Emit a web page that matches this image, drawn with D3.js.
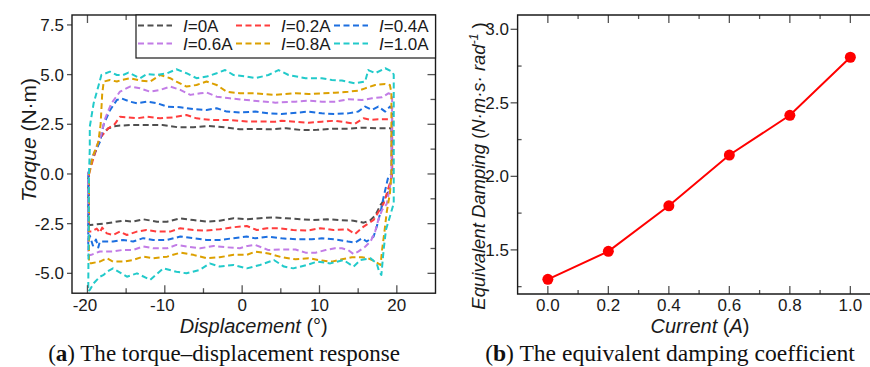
<!DOCTYPE html>
<html>
<head>
<meta charset="utf-8">
<script src="https://cdn.jsdelivr.net/npm/d3@7"></script>
<style>
  body { margin: 0; background: #fff; }
  svg { display: block; font-family: Arial, "Liberation Sans", sans-serif; }
</style>
</head>
<body>
<svg id="fig" width="870" height="367"></svg>
<script>
// ---------------- data: (a) torque vs displacement loops, [deg, N·m] ----------------
const currentLabels = ["0A", "0.2A", "0.4A", "0.6A", "0.8A", "1.0A"];
const curveColors = ["#4f4f4f", "#ff3d3d", "#1c6fe0", "#c27ce6", "#dca000", "#22caca"];

// upper branch (left -> right), lower branch (right -> left)
const upper00 = [[-19.9,0],[-19.3,0.8],[-18.6,1.5],[-18.1,2.0],[-17.3,2.3],[-16.3,2.42],[-14.3,2.47],[-12.3,2.47],[-10.3,2.47],[-8.3,2.35],[-6.3,2.35],[-4.3,2.42],[-2.3,2.35],[-0.3,2.25],[1.7,2.27],[3.7,2.25],[5.7,2.3],[7.7,2.21],[9.7,2.22],[11.7,2.28],[13.7,2.28],[15.7,2.33],[17.7,2.3],[19.3,2.3]];
const lower00 = [[19.4,0],[19.1,-0.6],[18.9,-0.9],[18.4,-1.3],[17.9,-1.55],[17.2,-2.1],[16.5,-2.35],[15.7,-2.45],[14.4,-2.35],[12.7,-2.32],[11.0,-2.28],[9.2,-2.32],[7.5,-2.28],[5.7,-2.23],[4.1,-2.18],[2.3,-2.23],[0.6,-2.28],[-1.1,-2.23],[-2.9,-2.35],[-4.6,-2.4],[-6.3,-2.32],[-8.0,-2.23],[-9.7,-2.4],[-11.0,-2.4],[-12.8,-2.28],[-14.1,-2.4],[-15.4,-2.35],[-17.5,-2.48],[-19.7,-2.57],[-19.9,-2.6]];

const upper02 = [[-19.8,0],[-19.3,0.7],[-18.4,1.8],[-17.3,2.3],[-16.5,2.5],[-15.8,2.88],[-14.8,2.85],[-13.6,2.8],[-12.3,2.88],[-10.6,2.8],[-8.9,2.85],[-7.2,2.97],[-5.9,2.8],[-4.1,2.72],[-2.0,2.72],[0.6,2.64],[2.3,2.64],[4.3,2.63],[5.1,2.68],[6.9,2.63],[8.6,2.58],[10.3,2.63],[12.0,2.68],[13.7,2.58],[14.6,2.53],[15.7,2.8],[16.6,2.72],[17.6,2.75],[18.9,2.75],[19.4,2.8]];
const lower02 = [[19.4,0],[19.1,-0.47],[18.3,-1.48],[17.0,-2.31],[15.7,-2.65],[14.6,-3.02],[13.6,-2.78],[11.8,-2.82],[10.1,-2.73],[8.4,-2.85],[6.6,-2.82],[4.9,-2.73],[3.2,-2.73],[1.9,-2.82],[0.6,-2.62],[-1.1,-2.68],[-2.9,-2.78],[-4.6,-2.85],[-6.3,-2.82],[-8.0,-2.73],[-9.3,-2.9],[-11.0,-2.9],[-12.4,-2.82],[-13.6,-2.9],[-14.9,-3.07],[-15.8,-2.9],[-16.7,-3.07],[-17.5,-2.99],[-18.1,-2.7],[-18.4,-2.95],[-18.8,-2.75],[-19.5,-2.9],[-19.8,-2.9]];

const upper04 = [[-19.9,0],[-19.3,0.9],[-18.4,1.6],[-17.9,2.5],[-17.1,3.2],[-16.2,3.72],[-15.6,3.8],[-14.5,3.64],[-13.6,3.56],[-12.3,3.64],[-11.0,3.56],[-9.7,3.39],[-8.0,3.36],[-6.3,3.26],[-4.6,3.22],[-3.3,3.31],[-2.0,3.14],[-0.3,3.09],[1.7,3.14],[3.4,3.05],[5.1,3.02],[7.3,3.09],[8.6,3.14],[10.3,3.05],[12.0,3.02],[13.7,3.05],[15.0,3.14],[15.9,3.39],[16.8,3.22],[17.6,3.39],[18.5,3.14],[19.1,3.39],[19.4,3.3]];
const lower04 = [[19.3,0],[18.9,-0.13],[18.3,-1.14],[17.9,-1.9],[17.4,-2.65],[17.0,-3.15],[16.1,-3.4],[15.5,-3.24],[14.6,-3.45],[13.7,-3.4],[12.0,-3.29],[10.3,-3.24],[9.0,-3.29],[7.3,-3.29],[5.1,-3.24],[3.4,-3.15],[1.7,-3.24],[0.6,-3.15],[-1.1,-3.23],[-2.9,-3.32],[-4.6,-3.32],[-6.3,-3.23],[-8.0,-3.15],[-9.7,-3.32],[-11.5,-3.32],[-12.8,-3.23],[-14.1,-3.4],[-15.4,-3.32],[-16.7,-3.4],[-18.4,-3.4],[-18.6,-3.7],[-18.9,-3.3],[-19.3,-3.6],[-19.7,-3.1],[-19.9,-3.5]];

const upper06 = [[-19.9,0],[-19.4,0.8],[-18.8,1.4],[-18.3,1.9],[-17.7,2.8],[-16.9,3.56],[-15.8,4.14],[-14.5,4.4],[-13.2,4.31],[-11.9,4.14],[-10.6,4.23],[-9.3,4.4],[-8.0,4.23],[-6.7,3.98],[-5.4,4.06],[-4.6,4.1],[-3.3,3.89],[-1.6,3.81],[0.6,3.72],[2.3,3.66],[4.3,3.59],[6.9,3.64],[8.6,3.69],[10.3,3.64],[12.0,3.64],[13.7,3.76],[15.5,3.72],[16.8,3.81],[18.1,3.86],[18.9,4.06],[19.4,4.0]];
const lower06 = [[19.3,0],[19.2,-0.47],[18.7,-1.5],[18.1,-1.81],[17.6,-2.32],[17.2,-2.9],[16.6,-3.4],[15.9,-3.66],[15.0,-3.91],[14.4,-4.03],[13.7,-3.83],[12.9,-3.74],[12.0,-3.74],[10.8,-3.83],[9.5,-3.96],[8.2,-3.96],[6.9,-3.8],[5.1,-3.8],[3.4,-3.83],[1.7,-3.57],[0.7,-3.62],[-0.3,-3.74],[-2.0,-3.69],[-3.7,-3.62],[-5.4,-3.74],[-7.2,-3.65],[-8.5,-3.57],[-9.7,-3.74],[-11.5,-3.74],[-12.8,-3.65],[-14.1,-3.82],[-15.4,-3.82],[-16.7,-3.9],[-18.4,-3.9],[-19.5,-4.07],[-19.9,-4.1]];

const upper08 = [[-19.8,0],[-19.3,0.9],[-18.6,1.6],[-18.3,2.5],[-18.1,4.0],[-17.9,4.65],[-17.1,4.73],[-16.2,4.65],[-15.6,4.73],[-14.5,4.82],[-13.2,4.7],[-11.9,4.65],[-10.6,4.98],[-9.3,4.82],[-8.5,4.65],[-7.2,4.4],[-5.9,4.48],[-4.6,4.65],[-3.3,4.48],[-2.0,4.14],[-0.3,4.06],[1.7,4.06],[4.3,3.98],[6.9,4.06],[8.6,4.02],[10.3,4.06],[12.0,4.09],[13.7,4.14],[15.0,4.19],[15.9,4.31],[17.2,4.48],[18.5,4.53],[19.1,4.48],[19.3,4.1]];
const lower08 = [[19.3,0],[19.1,-1.0],[18.7,-1.9],[18.4,-2.9],[18.1,-3.8],[17.9,-4.58],[17.2,-4.41],[16.3,-4.24],[15.5,-4.19],[14.2,-4.19],[12.9,-4.29],[11.6,-4.41],[10.3,-4.36],[8.6,-4.24],[6.9,-4.29],[5.1,-4.19],[3.4,-4.0],[1.7,-3.91],[0.6,-4.07],[-1.1,-4.07],[-2.9,-4.19],[-4.6,-4.24],[-6.3,-4.07],[-8.0,-3.96],[-9.7,-4.16],[-11.5,-4.24],[-12.8,-4.16],[-14.1,-4.33],[-15.4,-4.41],[-16.7,-4.41],[-17.5,-4.24],[-18.4,-4.41],[-19.5,-4.49],[-19.8,-4.5]];

const upper10 = [[-19.8,0],[-19.7,1.3],[-19.7,2.38],[-19.2,3.56],[-18.6,4.4],[-18.2,4.98],[-17.1,5.15],[-16.2,4.98],[-15.4,4.98],[-14.7,5.1],[-13.2,4.82],[-12.3,5.03],[-11.0,4.98],[-9.7,5.07],[-8.5,5.27],[-7.2,5.07],[-5.9,4.82],[-4.6,4.9],[-3.3,5.07],[-2.2,5.23],[-1.1,4.98],[0.6,4.9],[1.7,4.82],[3.4,4.98],[4.7,5.23],[6.0,4.98],[8.2,4.82],[10.3,4.82],[11.6,4.73],[12.9,4.7],[14.6,4.56],[15.9,4.65],[16.3,5.23],[17.2,5.07],[18.5,5.32],[19.4,5.15],[19.6,5.0]];
const lower10 = [[19.6,0],[19.6,-1.48],[19.1,-2.15],[18.6,-2.8],[18.3,-3.8],[18.0,-5.08],[17.7,-4.9],[17.4,-4.5],[16.6,-4.24],[15.3,-4.33],[14.4,-4.66],[13.1,-4.33],[11.4,-4.5],[9.7,-4.41],[8.4,-4.58],[6.6,-4.75],[5.4,-4.66],[4.1,-4.33],[2.3,-4.58],[0.6,-4.75],[-1.1,-4.58],[-2.9,-4.66],[-4.2,-4.5],[-5.5,-4.83],[-7.2,-5.0],[-8.5,-4.92],[-10.2,-4.75],[-11.9,-5.33],[-13.6,-5.0],[-14.9,-5.17],[-16.7,-4.75],[-17.5,-4.92],[-17.9,-5.08],[-18.4,-5.17],[-19.2,-5.5],[-19.7,-5.84],[-19.9,-5.9]];

const uppers = [upper00, upper02, upper04, upper06, upper08, upper10];
const lowers = [lower00, lower02, lower04, lower06, lower08, lower10];

// ---------------- data: (b) equivalent damping vs current ----------------
const currents = [0.0, 0.2, 0.4, 0.6, 0.8, 1.0];
const damping = [1.30, 1.49, 1.80, 2.145, 2.415, 2.81];

// ---------------- tick values ----------------
const dispTicks = [-20, -10, 0, 10, 20];
const dispMinor = [-15, -5, 5, 15];
const torqueTicks = [-5.0, -2.5, 0.0, 2.5, 5.0, 7.5];
const torqueMinor = [-3.75, -1.25, 1.25, 3.75, 6.25];
const currTicks = [0.0, 0.2, 0.4, 0.6, 0.8, 1.0];
const currMinor = [0.1, 0.3, 0.5, 0.7, 0.9];
const dampTicks = [1.5, 2.0, 2.5, 3.0];
const dampMinor = [1.25, 1.75, 2.25, 2.75];

const svg = d3.select("#fig");
const INK = "#1a1a1a";
const TICK = "#555";

// ======================= panel (a) =======================
const xA = d3.scaleLinear().domain([-22, 25]).range([72, 435.5]);
const yA = d3.scaleLinear().domain([-6, 8]).range([293.2, 15]);

svg.append("clipPath").attr("id", "clipA").append("rect")
  .attr("x", 72).attr("y", 15).attr("width", 363.5).attr("height", 278.2);

const gA = svg.append("g");

const lineA = d3.line().x(d => xA(d[0])).y(d => yA(d[1]));
uppers.forEach((up, i) => {
  const loop = up.concat(lowers[i]).concat([up[0]]);
  gA.append("path")
    .datum(loop)
    .attr("clip-path", "url(#clipA)")
    .attr("fill", "none")
    .attr("stroke", curveColors[i])
    .attr("stroke-width", 2)
    .attr("stroke-dasharray", "6,3.5")
    .attr("stroke-linejoin", "round")
    .attr("d", lineA);
});

// ticks (panel a)
function vTicks(g, vals, scale, y0, len, w) {
  vals.forEach(v => g.append("line")
    .attr("x1", scale(v)).attr("x2", scale(v))
    .attr("y1", y0).attr("y2", y0 + len)
    .attr("stroke", TICK).attr("stroke-width", w || 1.3));
}
function hTicks(g, vals, scale, x0, len, w) {
  vals.forEach(v => g.append("line")
    .attr("y1", scale(v)).attr("y2", scale(v))
    .attr("x1", x0).attr("x2", x0 + len)
    .attr("stroke", TICK).attr("stroke-width", w || 1.3));
}
vTicks(gA, dispTicks, xA, 293.2, -8);
vTicks(gA, dispMinor, xA, 293.2, -5);
vTicks(gA, dispTicks, xA, 15, 8);
vTicks(gA, dispMinor, xA, 15, 5);
hTicks(gA, torqueTicks, yA, 72, -5);
hTicks(gA, torqueTicks, yA, 435.5, -8);
hTicks(gA, torqueMinor, yA, 435.5, -5);

// frame
gA.append("rect")
  .attr("x", 72).attr("y", 15).attr("width", 363.5).attr("height", 278.2)
  .attr("fill", "none").attr("stroke", INK).attr("stroke-width", 1.4);

// tick labels
gA.selectAll(".xl").data(dispTicks).join("text")
  .attr("x", d => xA(d) - (d < 0 ? 2.5 : 0)).attr("y", 310.5)
  .attr("text-anchor", "middle").attr("font-size", 17).attr("fill", INK)
  .text(d => d);
gA.selectAll(".yl").data(torqueTicks).join("text")
  .attr("x", 64).attr("y", d => yA(d) + 6)
  .attr("text-anchor", "end").attr("font-size", 17).attr("fill", INK)
  .text(d => d.toFixed(1));

// axis titles
const tx = gA.append("text").attr("x", xA(1.5)).attr("y", 333)
  .attr("text-anchor", "middle").attr("font-size", 20).attr("fill", INK);
tx.append("tspan").attr("font-style", "italic").text("Displacement");
tx.append("tspan").text(" (°)");

const ty = gA.append("text")
  .attr("transform", "translate(36,140) rotate(-90)")
  .attr("text-anchor", "middle").attr("font-size", 21).attr("fill", INK);
ty.append("tspan").attr("font-style", "italic").text("Torque");
ty.append("tspan").text(" (N·m)");

// legend
const lg = gA.append("g");
lg.append("rect").attr("x", 136).attr("y", 15).attr("width", 299.5).attr("height", 43)
  .attr("fill", "#fff").attr("stroke", INK).attr("stroke-width", 1.2);
const colX = [137, 235, 333];
const rowY = [25.5, 43.5];
currentLabels.forEach((lab, i) => {
  const cx = colX[i % 3], cy = rowY[Math.floor(i / 3)];
  lg.append("line").attr("x1", cx + 1).attr("x2", cx + 35).attr("y1", cy).attr("y2", cy)
    .attr("stroke", curveColors[i]).attr("stroke-width", 2).attr("stroke-dasharray", "6,3.5");
  const t = lg.append("text").attr("x", cx + 46).attr("y", cy + 6)
    .attr("font-size", 17).attr("fill", INK);
  t.append("tspan").attr("font-style", "italic").text("I");
  t.append("tspan").text("=" + lab);
});

// ======================= panel (b) =======================
const xB = d3.scaleLinear().domain([-0.1, 1.1]).range([517.6, 880.6]);
const yB = d3.scaleLinear().domain([1.2, 3.1]).range([294, 14.6]);
const gB = svg.append("g");

vTicks(gB, currTicks, xB, 294, -8);
vTicks(gB, currMinor, xB, 294, -4);
vTicks(gB, currTicks, xB, 15, 8);
vTicks(gB, currMinor, xB, 15, 4);
hTicks(gB, dampTicks, yB, 517.6, -7);
hTicks(gB, dampMinor, yB, 517.6, 4);

gB.append("path")
  .attr("d", `M870,15H517.6V294H870`)
  .attr("fill", "none").attr("stroke", INK).attr("stroke-width", 1.4);

const pts = currents.map((c, i) => [c, damping[i]]);
gB.append("path").datum(pts)
  .attr("fill", "none").attr("stroke", "#ff0000").attr("stroke-width", 2)
  .attr("d", d3.line().x(d => xB(d[0])).y(d => yB(d[1])));
gB.selectAll("circle").data(pts).join("circle")
  .attr("cx", d => xB(d[0])).attr("cy", d => yB(d[1])).attr("r", 5.5)
  .attr("fill", "#ff0000");

gB.selectAll(".xl").data(currTicks).join("text")
  .attr("x", d => xB(d)).attr("y", 310.5)
  .attr("text-anchor", "middle").attr("font-size", 17).attr("fill", INK)
  .text(d => d.toFixed(1));
gB.selectAll(".yl").data(dampTicks).join("text")
  .attr("x", 509).attr("y", d => yB(d) + 6)
  .attr("text-anchor", "end").attr("font-size", 17).attr("fill", INK)
  .text(d => d.toFixed(1));

const tbx = gB.append("text").attr("x", 700).attr("y", 333)
  .attr("text-anchor", "middle").attr("font-size", 20).attr("fill", INK);
tbx.append("tspan").attr("font-style", "italic").text("Current");
tbx.append("tspan").text(" (");
tbx.append("tspan").attr("font-style", "italic").text("A");
tbx.append("tspan").text(")");

const tby = gB.append("text")
  .attr("transform", "translate(485,166) rotate(-90)")
  .attr("text-anchor", "middle").attr("font-size", 18.5).attr("fill", INK);
tby.append("tspan").attr("font-style", "italic").text("Equivalent Damping ");
tby.append("tspan").text("(");
tby.append("tspan").attr("font-style", "italic").text("N·m·s· rad");
tby.append("tspan").attr("font-style", "italic").attr("font-size", 12).attr("dy", -7).text("-1");
tby.append("tspan").attr("dy", 7).text(" )");

// ======================= captions =======================
function caption(cx, letter, rest, width) {
  const t = svg.append("text").attr("x", cx).attr("y", 361)
    .attr("text-anchor", "middle")
    .attr("font-family", "'Liberation Serif', 'Times New Roman', serif")
    .attr("font-size", 20).attr("fill", "#111");
  t.append("tspan").text("(");
  t.append("tspan").attr("font-weight", "bold").text(letter);
  t.append("tspan").text(") " + rest);
  const w = t.node().getComputedTextLength();
  t.attr("font-size", 20 * width / w);
}
caption(224, "a", "The torque–displacement response", 352);
caption(670, "b", "The equivalent damping coefficient", 370);
</script>
</body>
</html>
